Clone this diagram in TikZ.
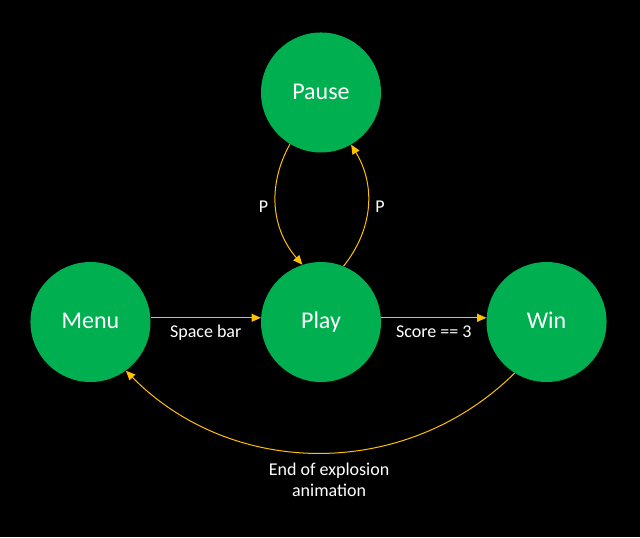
\documentclass[tikz,border=0pt]{standalone}
\usepackage{fontspec}
\setmainfont{Carlito}
\usetikzlibrary{arrows.meta,positioning}
\definecolor{stategreen}{HTML}{00B050}
\definecolor{edgeorange}{HTML}{FFC000}

\begin{document}
\begin{tikzpicture}[x=0.75pt,y=-0.75pt,>={Triangle[length=7pt,width=6pt]},
  state/.style={circle,fill=stategreen,minimum size=90pt,inner sep=0pt,text=white,
    text height=12pt,text depth=2pt,font=\fontsize{18}{20}\selectfont},
  trans/.style={->,draw=edgeorange,line width=0.75pt},
  lbl/.style={text=white,font=\fontsize{13.5}{15.75}\selectfont}]
% background and frame
\fill[black] (0,0) rectangle (640,537);
% states
\node[state] (Play) at (321,322) {Play};
\node[state,left=82.5pt of Play] (Menu) {Menu};
\node[state,right=78.75pt of Play] (Win) {Win};
\node[state,above=81.75pt of Play] (Pause) {Pause};
% transitions
\draw[trans] (Menu.4) -- (Play.176) node[lbl,midway,below=2pt] {Space bar};
\draw[trans] (Play.4) -- (Win.176) node[lbl,midway,below=2pt] {Score == 3};
\draw[trans] (Pause.239) to[bend right=35] node[lbl,left=2pt] {P} (Play.108);
\draw[trans] (Play.68) to[bend right=35] node[lbl,right=2pt] {P} (Pause.300);
\draw[trans] (Win.238) to[bend left=45] node[lbl,below=4pt,xshift=7,align=center] {End of explosion\\animation} (Menu.306);
\end{tikzpicture}
\end{document}
